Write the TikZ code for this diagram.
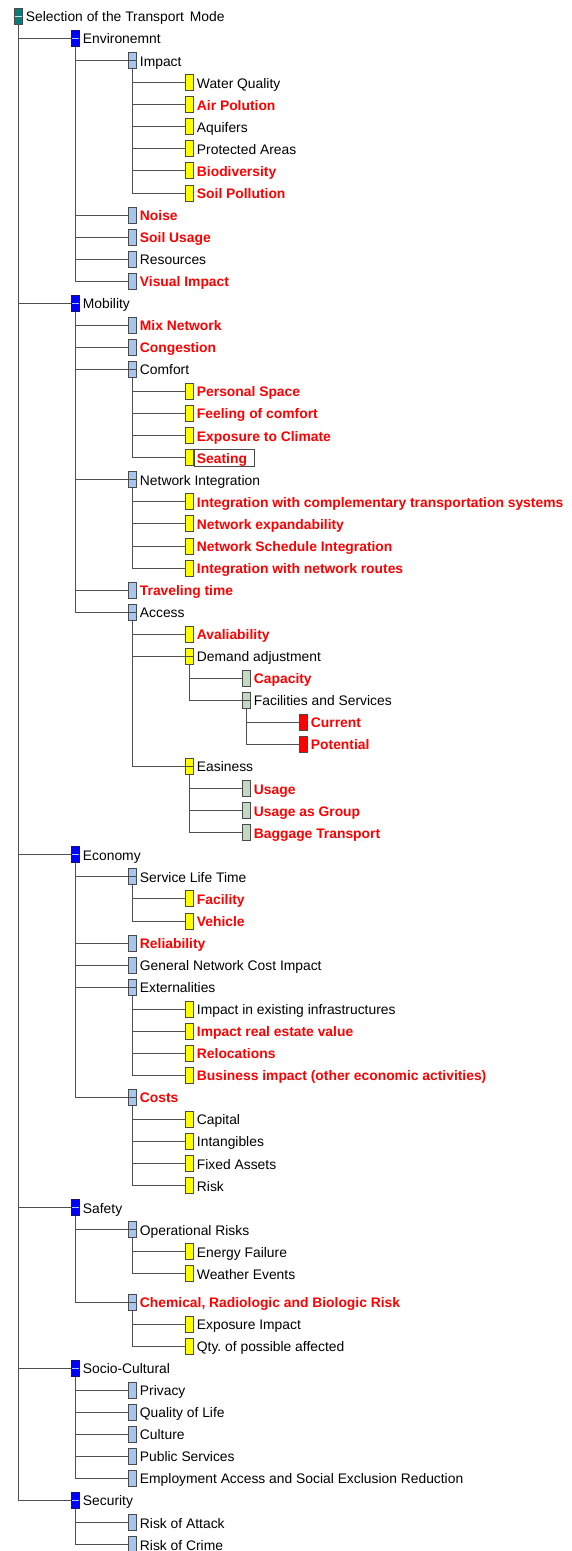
\documentclass[tikz,border=0pt]{standalone}
\usepackage{fontspec}
\setmainfont{Liberation Sans}
\frenchspacing
\definecolor{edge}{HTML}{4A4A4A}
\definecolor{linkgray}{HTML}{505050}
\definecolor{rootfill}{HTML}{0A7C7A}
\definecolor{rootmark}{HTML}{C8E6DE}
\definecolor{catfill}{HTML}{0000FF}
\definecolor{catmark}{HTML}{A8C4FF}
\definecolor{subfill}{HTML}{A6C6EE}
\definecolor{leaffill}{HTML}{FFFF00}
\definecolor{sagefill}{HTML}{C2D8C2}
\definecolor{hotfill}{HTML}{FF0000}
\definecolor{hotred}{HTML}{FF0000}
\tikzset{
  tbox/.style={rectangle, draw=edge, line width=0.9pt, minimum width=8.4pt,
    minimum height=16pt, inner sep=0pt},
  expander/.style={path picture={\draw[#1, line width=0.9pt]
    (path picture bounding box.west) -- (path picture bounding box.east);}},
  rootbox/.style={tbox, fill=rootfill, expander=rootmark},
  catbox/.style={tbox, fill=catfill, draw={rgb,255:red,20;green,20;blue,120}, expander=catmark},
  subbox/.style={tbox, fill=subfill},
  subopen/.style={subbox, expander=edge},
  leafbox/.style={tbox, fill=leaffill},
  leafopen/.style={leafbox, expander=edge},
  sagebox/.style={tbox, fill=sagefill},
  sageopen/.style={sagebox, expander=edge},
  redbox/.style={tbox, fill=hotfill},
  plain/.style={inner sep=0pt, text=black, font=\fontsize{13.85pt}{16pt}\selectfont},
  hot/.style={inner sep=0pt, text=hotred, font=\fontsize{13.85pt}{16pt}\selectfont\bfseries},
  conn/.style={draw=linkgray, line width=0.9pt},
  selframe/.style={draw=edge, line width=0.8pt},
}
% one row of the tree: index, depth, box style, text style, label
\newcommand\trow[5]{%
  \node[#3] (b#1) at ({18.5+57*#2},{16.5+22.06*#1+6*(#1>57)}) {};
  \node[#4, anchor=base west] (t#1) at ([xshift=2.6pt,yshift=-5.4pt]b#1.east) {#5};
}
\begin{document}
\begin{tikzpicture}[x=1pt,y=-1pt]
\useasboundingbox (0,0) rectangle (571,1551);
\trow{0}{0}{rootbox}{plain}{Selection of the Transport\hspace{2pt} Mode}
\trow{1}{1}{catbox}{plain}{Environemnt}
\trow{2}{2}{subopen}{plain}{Impact}
\trow{3}{3}{leafbox}{plain}{Water Quality}
\trow{4}{3}{leafbox}{hot}{Air Polution}
\trow{5}{3}{leafbox}{plain}{Aquifers}
\trow{6}{3}{leafbox}{plain}{Protected Areas}
\trow{7}{3}{leafbox}{hot}{Biodiversity}
\trow{8}{3}{leafbox}{hot}{Soil Pollution}
\trow{9}{2}{subbox}{hot}{Noise}
\trow{10}{2}{subbox}{hot}{Soil Usage}
\trow{11}{2}{subbox}{plain}{Resources}
\trow{12}{2}{subbox}{hot}{Visual Impact}
\trow{13}{1}{catbox}{plain}{Mobility}
\trow{14}{2}{subbox}{hot}{Mix Network}
\trow{15}{2}{subbox}{hot}{Congestion}
\trow{16}{2}{subopen}{plain}{Comfort}
\trow{17}{3}{leafbox}{hot}{Personal Space}
\trow{18}{3}{leafbox}{hot}{Feeling of comfort}
\trow{19}{3}{leafbox}{hot}{Exposure to Climate}
\trow{20}{3}{leafbox}{hot}{Seating}
\trow{21}{2}{subopen}{plain}{Network Integration}
\trow{22}{3}{leafbox}{hot}{Integration with complementary transportation systems}
\trow{23}{3}{leafbox}{hot}{Network expandability}
\trow{24}{3}{leafbox}{hot}{Network Schedule Integration}
\trow{25}{3}{leafbox}{hot}{Integration with network routes}
\trow{26}{2}{subbox}{hot}{Traveling time}
\trow{27}{2}{subopen}{plain}{Access}
\trow{28}{3}{leafbox}{hot}{Avaliability}
\trow{29}{3}{leafopen}{plain}{Demand adjustment}
\trow{30}{4}{sagebox}{hot}{Capacity}
\trow{31}{4}{sageopen}{plain}{Facilities and Services}
\trow{32}{5}{redbox}{hot}{Current}
\trow{33}{5}{redbox}{hot}{Potential}
\trow{34}{3}{leafopen}{plain}{Easiness}
\trow{35}{4}{sagebox}{hot}{Usage}
\trow{36}{4}{sagebox}{hot}{Usage as Group}
\trow{37}{4}{sagebox}{hot}{Baggage Transport}
\trow{38}{1}{catbox}{plain}{Economy}
\trow{39}{2}{subopen}{plain}{Service Life Time}
\trow{40}{3}{leafbox}{hot}{Facility}
\trow{41}{3}{leafbox}{hot}{Vehicle}
\trow{42}{2}{subbox}{hot}{Reliability}
\trow{43}{2}{subbox}{plain}{General Network Cost Impact}
\trow{44}{2}{subopen}{plain}{Externalities}
\trow{45}{3}{leafbox}{plain}{Impact in existing infrastructures}
\trow{46}{3}{leafbox}{hot}{Impact real estate value}
\trow{47}{3}{leafbox}{hot}{Relocations}
\trow{48}{3}{leafbox}{hot}{Business impact (other economic activities)}
\trow{49}{2}{subopen}{hot}{Costs}
\trow{50}{3}{leafbox}{plain}{Capital}
\trow{51}{3}{leafbox}{plain}{Intangibles}
\trow{52}{3}{leafbox}{plain}{Fixed Assets}
\trow{53}{3}{leafbox}{plain}{Risk}
\trow{54}{1}{catbox}{plain}{Safety}
\trow{55}{2}{subopen}{plain}{Operational Risks}
\trow{56}{3}{leafbox}{plain}{Energy Failure}
\trow{57}{3}{leafbox}{plain}{Weather Events}
\trow{58}{2}{subopen}{hot}{Chemical, Radiologic and Biologic Risk}
\trow{59}{3}{leafbox}{plain}{Exposure Impact}
\trow{60}{3}{leafbox}{plain}{Qty. of possible affected}
\trow{61}{1}{catbox}{plain}{Socio-Cultural}
\trow{62}{2}{subbox}{plain}{Privacy}
\trow{63}{2}{subbox}{plain}{Quality of Life}
\trow{64}{2}{subbox}{plain}{Culture}
\trow{65}{2}{subbox}{plain}{Public Services}
\trow{66}{2}{subbox}{plain}{Employment Access and Social Exclusion Reduction}
\trow{67}{1}{catbox}{plain}{Security}
\trow{68}{2}{subbox}{plain}{Risk of Attack}
\trow{69}{2}{subbox}{plain}{Risk of Crime}
% elbow connectors from each parent box down to its children
\begin{scope}[on background layer/.try]
\foreach \p/\c in {0/1,1/2,2/3,2/4,2/5,2/6,2/7,2/8,1/9,1/10,1/11,1/12,
  0/13,13/14,13/15,13/16,16/17,16/18,16/19,16/20,13/21,21/22,21/23,21/24,21/25,
  13/26,13/27,27/28,27/29,29/30,29/31,31/32,31/33,27/34,34/35,34/36,34/37,
  0/38,38/39,39/40,39/41,38/42,38/43,38/44,44/45,44/46,44/47,44/48,
  38/49,49/50,49/51,49/52,49/53,0/54,54/55,55/56,55/57,54/58,58/59,58/60,
  0/61,61/62,61/63,61/64,61/65,61/66,0/67,67/68,67/69}
  \draw[conn] (b\p.south) |- (b\c.west);
\end{scope}
% selection frame round the current item
\draw[selframe] (b20.north east) rectangle ([xshift=7pt]t20.east |- b20.south);
\end{tikzpicture}
\end{document}
